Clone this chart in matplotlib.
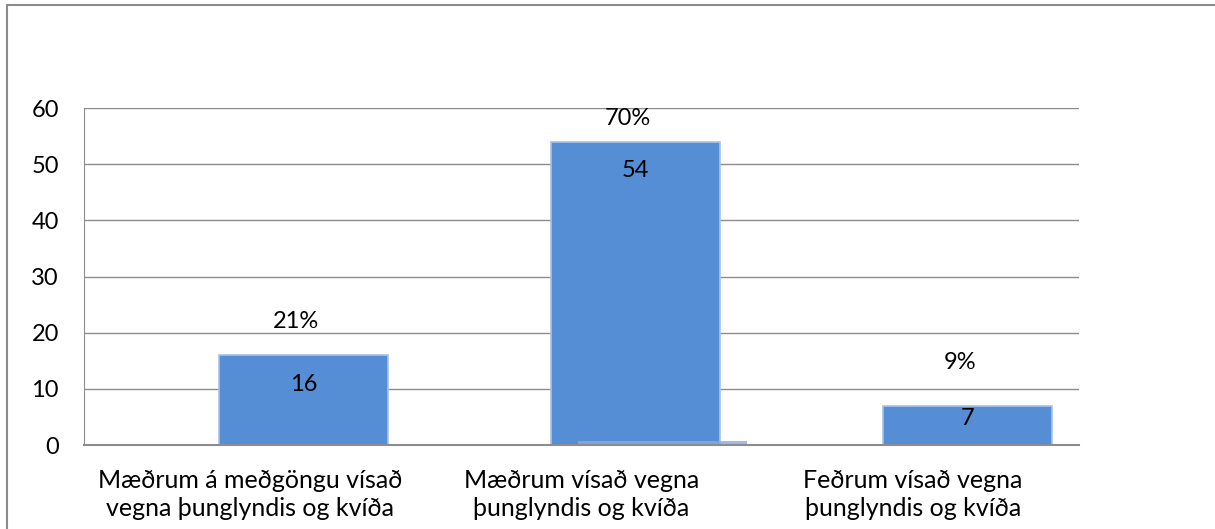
import matplotlib
matplotlib.use("Agg")
import matplotlib.pyplot as plt
from matplotlib.patches import Rectangle

# data
categories = ["Mæðrum á meðgöngu vísað\nvegna þunglyndis og kvíða",
              "Mæðrum vísað vegna\nþunglyndis og kvíða",
              "Feðrum vísað vegna\nþunglyndis og kvíða"]
counts = [16, 54, 7]
shares = [0.21, 0.70, 0.09]
share_labels = ["21%", "70%", "9%"]
yticks = [0, 10, 20, 30, 40, 50, 60]

plt.rcParams['font.family'] = ['Lato', 'DejaVu Sans']

fig = plt.figure(figsize=(12.15, 5.29), dpi=100)
ax = fig.add_axes([84 / 1215, 1 - 445 / 529, 995 / 1215, 337 / 529])

x = list(range(len(categories)))
w = 0.51
main_x = [i + 0.163 for i in x]
share_x = [i + 0.245 for i in x]

ax.bar(main_x, counts, width=w, color="#558ED5",
       edgecolor="#A9C2E6", linewidth=1.2, zorder=2)
ax.bar(share_x, shares, width=w, color="#8EA9DB", alpha=0.8, zorder=3)

fs = 17

# value labels inside the bars
label_offsets = [5.3, 5.2, 2.2]
for bx, c, off in zip(main_x, counts, label_offsets):
    ax.text(bx, c - off, str(c), ha="center", va="center", fontsize=fs)

# percentage labels above the bars
pct_y = [21.9, 58.2, 14.6]
for i, lab, py in zip(x, share_labels, pct_y):
    ax.text(i + 0.14, py, lab, ha="center", va="center", fontsize=fs)

ax.set_xlim(-0.5, 2.5)
ax.set_ylim(0, 60)
ax.set_yticks(yticks)
ax.set_xticks(x)
ax.set_xticklabels(categories, fontsize=18, linespacing=1.3)
ax.tick_params(axis="y", length=0, pad=18, labelsize=fs)
ax.tick_params(axis="x", length=0, pad=17)
ax.grid(axis="y", color="#8C8C8C", linewidth=1.0, zorder=0)
ax.set_axisbelow(True)
for s in ["top", "right"]:
    ax.spines[s].set_visible(False)
for s in ["left", "bottom"]:
    ax.spines[s].set_color("#8C8C8C")
    ax.spines[s].set_zorder(4)
ax.spines["bottom"].set_linewidth(1.5)

# outer chart frame
fig.patches.append(Rectangle((7 / 1215, -0.1), 1.1, 1.1 - 5 / 529,
                             transform=fig.transFigure, fill=False,
                             edgecolor="#8C8C8C", linewidth=1.5))

fig.savefig("out.png", dpi=100)
